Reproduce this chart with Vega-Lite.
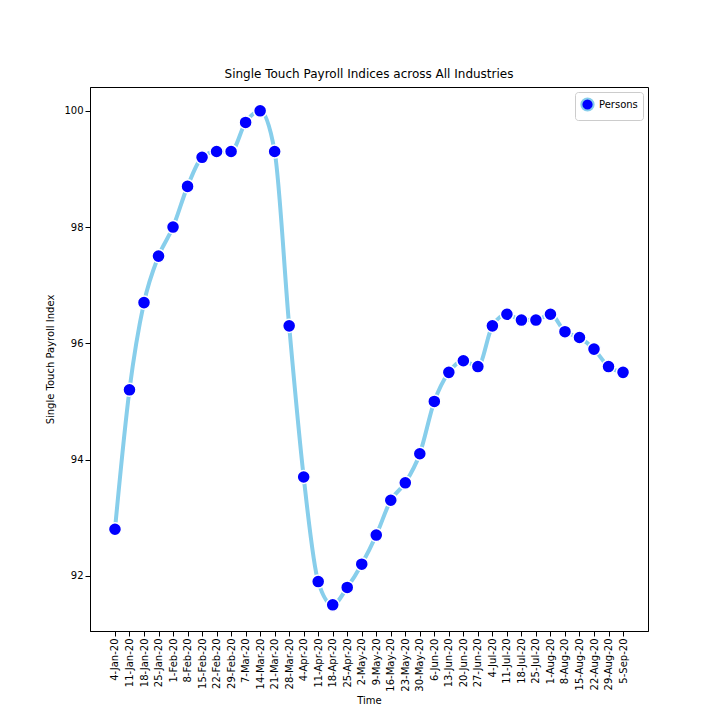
{
  "$schema": "https://vega.github.io/schema/vega-lite/v6.json",
  "autosize": "none",
  "width": 558,
  "height": 544,
  "padding": {"left": 90, "top": 87, "right": 72, "bottom": 89},
  "background": "white",
  "config": {
    "font": "DejaVu Sans",
    "view": {"stroke": "black", "strokeWidth": 1},
    "axis": {"grid": false, "labelFont": "DejaVu Sans", "titleFont": "DejaVu Sans", "labelFontSize": 10, "titleFontSize": 10, "titleFontWeight": "normal", "labelColor": "black", "titleColor": "black", "domainColor": "black", "tickColor": "black"}
  },
  "title": {"text": "Single Touch Payroll Indices across All Industries", "fontSize": 12, "fontWeight": "normal", "font": "DejaVu Sans", "offset": 6},
  "data": {"values": [
    {"t": "4-Jan-20", "v": 92.8, "s": "Persons"},
    {"t": "11-Jan-20", "v": 95.2, "s": "Persons"},
    {"t": "18-Jan-20", "v": 96.7, "s": "Persons"},
    {"t": "25-Jan-20", "v": 97.5, "s": "Persons"},
    {"t": "1-Feb-20", "v": 98.0, "s": "Persons"},
    {"t": "8-Feb-20", "v": 98.7, "s": "Persons"},
    {"t": "15-Feb-20", "v": 99.2, "s": "Persons"},
    {"t": "22-Feb-20", "v": 99.3, "s": "Persons"},
    {"t": "29-Feb-20", "v": 99.3, "s": "Persons"},
    {"t": "7-Mar-20", "v": 99.8, "s": "Persons"},
    {"t": "14-Mar-20", "v": 100.0, "s": "Persons"},
    {"t": "21-Mar-20", "v": 99.3, "s": "Persons"},
    {"t": "28-Mar-20", "v": 96.3, "s": "Persons"},
    {"t": "4-Apr-20", "v": 93.7, "s": "Persons"},
    {"t": "11-Apr-20", "v": 91.9, "s": "Persons"},
    {"t": "18-Apr-20", "v": 91.5, "s": "Persons"},
    {"t": "25-Apr-20", "v": 91.8, "s": "Persons"},
    {"t": "2-May-20", "v": 92.2, "s": "Persons"},
    {"t": "9-May-20", "v": 92.7, "s": "Persons"},
    {"t": "16-May-20", "v": 93.3, "s": "Persons"},
    {"t": "23-May-20", "v": 93.6, "s": "Persons"},
    {"t": "30-May-20", "v": 94.1, "s": "Persons"},
    {"t": "6-Jun-20", "v": 95.0, "s": "Persons"},
    {"t": "13-Jun-20", "v": 95.5, "s": "Persons"},
    {"t": "20-Jun-20", "v": 95.7, "s": "Persons"},
    {"t": "27-Jun-20", "v": 95.6, "s": "Persons"},
    {"t": "4-Jul-20", "v": 96.3, "s": "Persons"},
    {"t": "11-Jul-20", "v": 96.5, "s": "Persons"},
    {"t": "18-Jul-20", "v": 96.4, "s": "Persons"},
    {"t": "25-Jul-20", "v": 96.4, "s": "Persons"},
    {"t": "1-Aug-20", "v": 96.5, "s": "Persons"},
    {"t": "8-Aug-20", "v": 96.2, "s": "Persons"},
    {"t": "15-Aug-20", "v": 96.1, "s": "Persons"},
    {"t": "22-Aug-20", "v": 95.9, "s": "Persons"},
    {"t": "29-Aug-20", "v": 95.6, "s": "Persons"},
    {"t": "5-Sep-20", "v": 95.5, "s": "Persons"}
  ]},
  "transform": [{"window": [{"op": "row_number", "as": "n"}]}],
  "encoding": {
    "x": {"field": "n", "type": "quantitative", "scale": {"domain": [-0.72, 37.72], "nice": false, "zero": false}, "title": "Time",
      "axis": {"values": [1,2,3,4,5,6,7,8,9,10,11,12,13,14,15,16,17,18,19,20,21,22,23,24,25,26,27,28,29,30,31,32,33,34,35,36], "labelAngle": -90, "labelAlign": "right", "labelBaseline": "middle", "titlePadding": 4,
        "labelExpr": "['4-Jan-20','11-Jan-20','18-Jan-20','25-Jan-20','1-Feb-20','8-Feb-20','15-Feb-20','22-Feb-20','29-Feb-20','7-Mar-20','14-Mar-20','21-Mar-20','28-Mar-20','4-Apr-20','11-Apr-20','18-Apr-20','25-Apr-20','2-May-20','9-May-20','16-May-20','23-May-20','30-May-20','6-Jun-20','13-Jun-20','20-Jun-20','27-Jun-20','4-Jul-20','11-Jul-20','18-Jul-20','25-Jul-20','1-Aug-20','8-Aug-20','15-Aug-20','22-Aug-20','29-Aug-20','5-Sep-20'][datum.value - 1]"}},
    "y": {"field": "v", "type": "quantitative", "scale": {"domain": [91.05, 100.41], "nice": false, "zero": false}, "title": "Single Touch Payroll Index", "axis": {"values": [92, 94, 96, 98, 100], "titlePadding": 8}}
  },
  "layer": [
    {"mark": {"type": "line", "interpolate": "monotone", "color": "skyblue", "strokeWidth": 4}},
    {"mark": {"type": "point", "filled": true, "fill": "blue", "stroke": "white", "strokeWidth": 1.5, "size": 170, "opacity": 1},
     "encoding": {"color": {"field": "s", "type": "nominal", "scale": {"range": ["blue"]}, "legend": {"title": null, "orient": "top-right", "symbolType": "circle", "symbolSize": 150, "symbolFillColor": "blue", "symbolStrokeColor": "skyblue", "symbolStrokeWidth": 2, "labelFontSize": 10, "strokeColor": "#ccc", "fillColor": "white", "padding": 5, "cornerRadius": 3, "offset": 5}}}}
  ]
}
